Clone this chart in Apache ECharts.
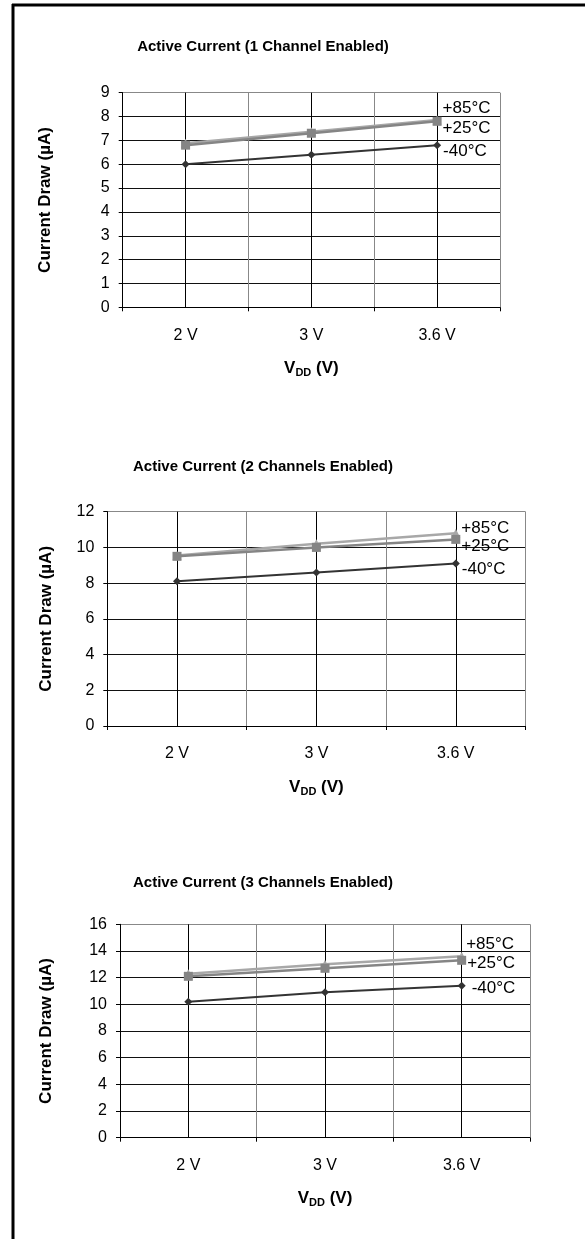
<!DOCTYPE html>
<html>
<head>
<meta charset="utf-8">
<script src="https://cdn.jsdelivr.net/npm/echarts@6/dist/echarts.min.js"></script>
<style>
html,body{margin:0;padding:0;background:#fff;}
#c{width:585px;height:1239px;}
</style>
</head>
<body>
<div id="c"></div>
<script>
// ---- data ----
const categories = ['2 V', '3 V', '3.6 V'];
const seriesNames = ['-40°C', '+25°C', '+85°C'];
const titles = ['Active Current (1 Channel Enabled)', 'Active Current (2 Channels Enabled)', 'Active Current (3 Channels Enabled)'];
// chart 1 (1 channel)
const ch1_m40 = [6.0, 6.4, 6.8];
const ch1_p25 = [6.8, 7.3, 7.8];
const ch1_p85 = [6.88, 7.36, 7.86];
// chart 2 (2 channels)
const ch2_m40 = [8.1, 8.6, 9.1];
const ch2_p25 = [9.5, 10.0, 10.45];
const ch2_p85 = [9.55, 10.2, 10.8];
// chart 3 (3 channels)
const ch3_m40 = [10.2, 10.9, 11.4];
const ch3_p25 = [12.1, 12.7, 13.3];
const ch3_p85 = [12.3, 13.0, 13.6];
// y-axis ranges
const yMax = [9, 12, 16];
const yInterval = [1, 2, 2];

const chartData = [
  [ch1_m40, ch1_p25, ch1_p85],
  [ch2_m40, ch2_p25, ch2_p85],
  [ch3_m40, ch3_p25, ch3_p85]
];

// ---- layout / style ----
const FONT = "'Liberation Sans', Arial, sans-serif";
const grids = [
  {left: 122.7, top: 92.7, width: 377.3, height: 214.6},
  {left: 107.3, top: 511.7, width: 418.2, height: 214.3},
  {left: 120, top: 924.3, width: 410, height: 213.4}
];
const titleTops = [39.5, 459.5, 875.5];
const yNameGaps = [69, 52, 65];
const seriesStyle = [
  {color: '#333333', symbol: 'diamond', size: 8, width: 2},
  {color: '#858585', symbol: 'rect', size: 9, width: 2.5},
  {color: '#a8a8a8', symbol: 'triangle', size: 9, width: 2.5}
];
// label offsets [dx, dy] per chart per series
const labelOffsets = [
  [[2, 6], [1, 7], [1, -12]],
  [[2, 6], [1, 7], [1, -5]],
  [[6, 3], [1, 3], [0, -12]]
];

const option = {
  animation: false,
  backgroundColor: '#fff',
  textStyle: {fontFamily: FONT},
  title: titles.map((t, i) => ({
    text: t, left: 263, top: titleTops[i], textAlign: 'center', padding: 0,
    textStyle: {fontFamily: FONT, fontSize: 15, fontWeight: 'bold', color: '#000'}
  })),
  grid: grids.map(g => Object.assign({containLabel: false}, g)),
  xAxis: [],
  yAxis: [],
  series: [],
  graphic: [
    {type: 'line', shape: {x1: 12, y1: 5, x2: 585, y2: 5}, style: {stroke: '#000', lineWidth: 3}, z: 100},
    {type: 'line', shape: {x1: 13, y1: 4, x2: 13, y2: 1239}, style: {stroke: '#000', lineWidth: 3}, z: 100}
  ]
};

for (let i = 0; i < 3; i++) {
  // category axis (labels, ticks, axis line)
  option.xAxis.push({
    type: 'category', gridIndex: i, data: categories, boundaryGap: true,
    axisLine: {lineStyle: {color: '#000', width: 1}},
    axisTick: {show: true, length: 4, lineStyle: {color: '#000'}},
    axisLabel: {color: '#000', fontSize: 16, fontFamily: FONT, margin: 20},
    splitLine: {show: false},
    name: '{v|V}{s|DD}{v| (V)}', nameLocation: 'middle', nameGap: 51,
    nameTextStyle: {
      rich: {
        v: {fontSize: 17, fontWeight: 'bold', color: '#000', fontFamily: FONT, lineHeight: 20},
        s: {fontSize: 11, fontWeight: 'bold', color: '#000', fontFamily: FONT, lineHeight: 20, verticalAlign: 'bottom', padding: [6, 0, 0, 0]}
      }
    }
  });
}
for (let i = 0; i < 3; i++) {
  // helper value axis for vertical gridlines (boundaries and category centres)
  option.xAxis.push({
    type: 'value', gridIndex: i, min: 0, max: 6, interval: 1, position: 'bottom',
    axisLine: {show: false}, axisTick: {show: false}, axisLabel: {show: false},
    splitLine: {show: true, lineStyle: {color: ['#000', '#000', '#888', '#000', '#888', '#000', '#888'], width: 1}}
  });
}
for (let i = 0; i < 3; i++) {
  const n = yMax[i] / yInterval[i] + 1;
  const cols = [];
  for (let k = 0; k < n; k++) cols.push(k === n - 1 ? '#888' : '#111');
  option.yAxis.push({
    type: 'value', gridIndex: i, min: 0, max: yMax[i], interval: yInterval[i],
    axisLine: {show: true, lineStyle: {color: '#000', width: 1}},
    axisTick: {show: true, length: 4, lineStyle: {color: '#000'}},
    axisLabel: {color: '#000', fontSize: 16, fontFamily: FONT, margin: 13},
    splitLine: {show: true, lineStyle: {color: cols, width: 1}},
    name: 'Current Draw (µA)', nameLocation: 'middle', nameGap: yNameGaps[i], nameRotate: 90,
    nameTextStyle: {fontSize: 17, fontWeight: 'bold', color: '#000', fontFamily: FONT}
  });
}
for (let i = 0; i < 3; i++) {
  chartData[i].forEach((vals, s) => {
    const st = seriesStyle[s];
    const name = seriesNames[s];
    option.series.push({
      type: 'line', name: name, xAxisIndex: i, yAxisIndex: i, data: vals,
      symbol: st.symbol, symbolSize: st.size, showAllSymbol: true,
      lineStyle: {color: st.color, width: st.width},
      itemStyle: {color: st.color},
      z: 10 - s,
      label: {
        show: true, position: 'right', distance: 0,
        offset: labelOffsets[i][s],
        formatter: p => (p.dataIndex === vals.length - 1 ? name : ''),
        color: '#000', fontSize: 17, fontFamily: FONT
      }
    });
  });
}

const chart = echarts.init(document.getElementById('c'), null, {renderer: 'canvas'});
chart.setOption(option);
</script>
</body>
</html>
